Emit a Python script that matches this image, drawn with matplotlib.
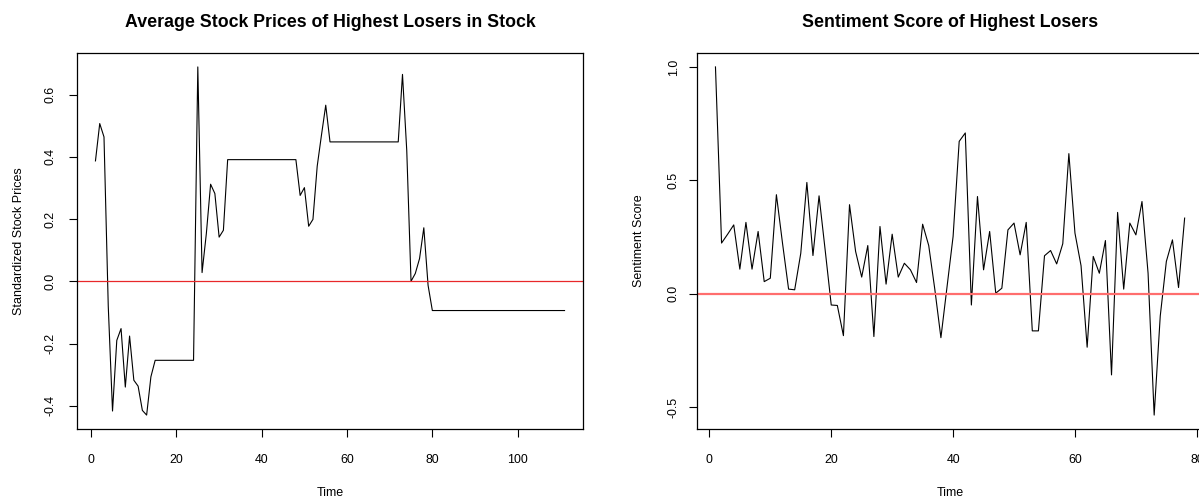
import numpy as np
import matplotlib
matplotlib.use("Agg")
import matplotlib.pyplot as plt

plt.rcParams['font.family'] = ['Liberation Sans', 'DejaVu Sans']

# standardized average stock prices of the highest losers (one value per time step)
stock_prices = [
    0.387, 0.507, 0.464, -0.08, -0.417, -0.19, -0.152, -0.34, -0.176, -0.318,
    -0.337, -0.415, -0.43, -0.307, -0.254, -0.254, -0.254, -0.254, -0.254, -0.254,
    -0.254, -0.254, -0.254, -0.254, 0.689, 0.028, 0.153, 0.312, 0.282, 0.142,
    0.164, 0.391, 0.391, 0.391, 0.391, 0.391, 0.391, 0.391, 0.391, 0.391,
    0.391, 0.391, 0.391, 0.391, 0.391, 0.391, 0.391, 0.391, 0.276, 0.301,
    0.177, 0.199, 0.37, 0.47, 0.566, 0.448, 0.448, 0.448, 0.448, 0.448,
    0.448, 0.448, 0.448, 0.448, 0.448, 0.448, 0.448, 0.448, 0.448, 0.448,
    0.448, 0.448, 0.665, 0.42, 0.0, 0.025, 0.073, 0.172, -0.013, -0.094,
    -0.094, -0.094, -0.094, -0.094, -0.094, -0.094, -0.094, -0.094, -0.094, -0.094,
    -0.094, -0.094, -0.094, -0.094, -0.094, -0.094, -0.094, -0.094, -0.094, -0.094,
    -0.094, -0.094, -0.094, -0.094, -0.094, -0.094, -0.094, -0.094, -0.094, -0.094,
    -0.094,
]

# sentiment score of the highest losers
sentiment = [
    1.0, 0.224, 0.263, 0.304, 0.109, 0.315, 0.109, 0.275, 0.054, 0.069,
    0.437, 0.224, 0.021, 0.018, 0.179, 0.491, 0.169, 0.432, 0.194, -0.049,
    -0.051, -0.184, 0.393, 0.187, 0.074, 0.213, -0.188, 0.297, 0.043, 0.263,
    0.074, 0.135, 0.106, 0.05, 0.307, 0.213, 0.02, -0.193, 0.03, 0.253,
    0.672, 0.709, -0.049, 0.429, 0.106, 0.275, 0.003, 0.025, 0.282, 0.312,
    0.172, 0.315, -0.163, -0.163, 0.168, 0.191, 0.132, 0.221, 0.618, 0.268,
    0.124, -0.235, 0.165, 0.091, 0.235, -0.357, 0.359, 0.021, 0.312, 0.26,
    0.407, 0.091, -0.534, -0.097, 0.143, 0.238, 0.028, 0.334,
]

left_xticks = [0, 20, 40, 60, 80, 100]
left_yticks = [-0.4, -0.2, 0.0, 0.2, 0.4, 0.6]
right_xticks = [0, 20, 40, 60, 80]
right_yticks = [-0.5, 0.0, 0.5, 1.0]

W, H = 1199, 501
fig = plt.figure(figsize=(W / 100, H / 100), dpi=100)


def r_limits(vals):
    # R style axis range: data range widened by 4% on each side
    lo, hi = min(vals), max(vals)
    d = (hi - lo) * 0.04
    return lo - d, hi + d


def style_axes(ax, xticks, yticks, ypad):
    for s in ax.spines.values():
        s.set_linewidth(0.9)
        s.set_color("black")
    ax.set_xticks(xticks)
    ax.set_xticklabels([str(t) for t in xticks])
    ax.set_yticks(yticks)
    ax.set_yticklabels(["%.1f" % t for t in yticks])
    ax.tick_params(axis="both", direction="out", length=6, width=0.8,
                   labelsize=8.9, colors="black")
    ax.tick_params(axis="x", pad=12)
    ax.tick_params(axis="y", pad=ypad)
    for lab in ax.get_yticklabels():
        lab.set_rotation(90)
        lab.set_ha("center")
        lab.set_va("center")
    ax.xaxis.label.set_va("center")
    ax.yaxis.label.set_va("center")


# left panel: stock prices
ax1 = fig.add_axes([76.7 / W, (H - 429) / H, (583.3 - 76.7) / W, 376 / H])
t1 = np.arange(1, len(stock_prices) + 1)
ax1.plot(t1, stock_prices, color="black", lw=0.8)
ax1.axhline(0, color="#e8282a", lw=0.9)
ax1.set_xlim(*r_limits(t1))
ax1.set_ylim(*r_limits(stock_prices))
ax1.set_title("Average Stock Prices of Highest Losers in Stock",
              fontsize=12.8, fontweight="bold", pad=19)
ax1.set_xlabel("Time", fontsize=9)
ax1.set_ylabel("Standardized Stock Prices", fontsize=9)
style_axes(ax1, left_xticks, left_yticks, 13)
ax1.xaxis.set_label_coords(0.5, -64 / 376)
ax1.yaxis.set_label_coords(-57.5 / 506.6, 0.5)

# right panel: sentiment score (box runs past the right edge of the picture)
ax2 = fig.add_axes([696.7 / W, (H - 429) / H, (1203.4 - 696.7) / W, 376 / H])
t2 = np.arange(1, len(sentiment) + 1)
ax2.plot(t2, sentiment, color="black", lw=0.8)
ax2.axhline(0, color="#ff6e6e", lw=1.6)
ax2.set_xlim(*r_limits(t2))
ax2.set_ylim(*r_limits(sentiment))
ax2.set_title("Sentiment Score of Highest Losers",
              fontsize=12.8, fontweight="bold", pad=19)
ax2.set_xlabel("Time", fontsize=9)
ax2.set_ylabel("Sentiment Score", fontsize=9)
style_axes(ax2, right_xticks, right_yticks, 10.5)
ax2.xaxis.set_label_coords(0.5, -64 / 376)
ax2.yaxis.set_label_coords(-57.5 / 506.7, 0.5)

fig.savefig("out.png", dpi=100)
